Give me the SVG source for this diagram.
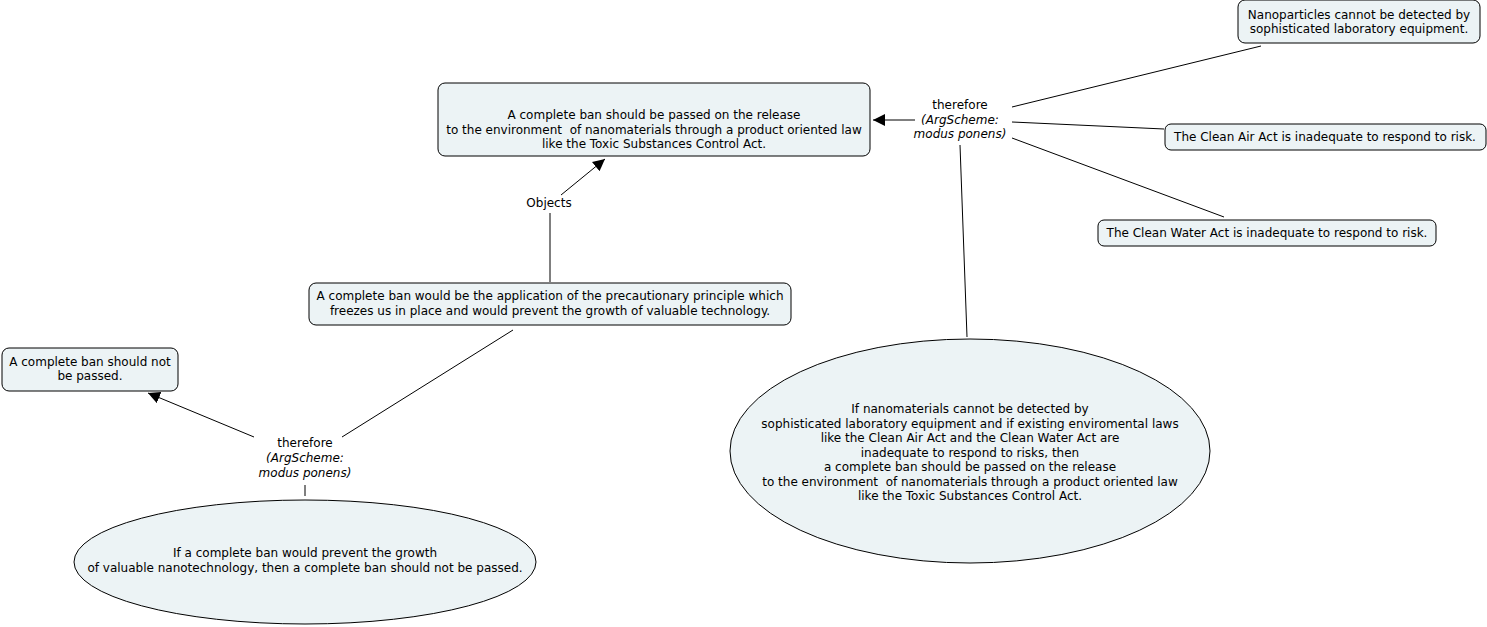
<svg xmlns="http://www.w3.org/2000/svg" width="1487" height="627" viewBox="0 0 1487 627">
<defs>
<marker id="arr" viewBox="0 0 10 10" refX="10" refY="5" markerWidth="12" markerHeight="12" markerUnits="userSpaceOnUse" orient="auto">
<path d="M0,0 L10,5 L0,10 z" fill="#000"/>
</marker>
</defs>
<style>
.n{fill:#ecf3f5;stroke:#000;stroke-width:1}
text{font-family:"DejaVu Sans",Verdana,sans-serif;font-size:12px;fill:#000;text-anchor:middle;white-space:pre}
.i{font-style:italic}
.c line{stroke:#000;stroke-width:1}
</style>
<rect width="1487" height="627" fill="#fff"/>
<g class="c" id="connectors">
<line x1="915" y1="120" x2="873" y2="120" marker-end="url(#arr)"/>
<line x1="1012" y1="107" x2="1261" y2="46"/>
<line x1="1012" y1="122" x2="1164" y2="129"/>
<line x1="1012" y1="138" x2="1224" y2="217"/>
<line x1="960" y1="145" x2="967" y2="337"/>
<line x1="561" y1="195" x2="605" y2="159" marker-end="url(#arr)"/>
<line x1="550" y1="213" x2="550" y2="282"/>
<line x1="513" y1="330" x2="342" y2="437"/>
<line x1="254" y1="437" x2="148" y2="393" marker-end="url(#arr)"/>
<line x1="305" y1="485" x2="305" y2="496"/>
</g>
<g id="claim">
<rect class="n" x="438" y="83" width="432" height="73" rx="7"/>
<text x="654" y="119">A complete ban should be passed on the release</text>
<text x="654" y="134" xml:space="preserve">to the environment  of nanomaterials through a product oriented law</text>
<text x="654" y="148">like the Toxic Substances Control Act.</text>
</g>
<g id="therefore1">
<text x="960" y="109">therefore</text>
<text class="i" x="960" y="124">(ArgScheme:</text>
<text class="i" x="960" y="138">modus ponens)</text>
</g>
<g id="nanoparticles">
<rect class="n" x="1238" y="0" width="242" height="43" rx="7"/>
<text x="1359" y="19">Nanoparticles cannot be detected by</text>
<text x="1359" y="33">sophisticated laboratory equipment.</text>
</g>
<g id="cleanair">
<rect class="n" x="1165" y="124" width="321" height="26" rx="6"/>
<text x="1325" y="141">The Clean Air Act is inadequate to respond to risk.</text>
</g>
<g id="cleanwater">
<rect class="n" x="1098" y="220" width="338" height="26" rx="6"/>
<text x="1267" y="237">The Clean Water Act is inadequate to respond to risk.</text>
</g>
<g id="premise1">
<ellipse class="n" cx="970" cy="451" rx="240" ry="112"/>
<text x="970" y="413">If nanomaterials cannot be detected by</text>
<text x="970" y="428">sophisticated laboratory equipment and if existing enviromental laws</text>
<text x="970" y="442">like the Clean Air Act and the Clean Water Act are</text>
<text x="970" y="457">inadequate to respond to risks, then</text>
<text x="970" y="471">a complete ban should be passed on the release</text>
<text x="970" y="486" xml:space="preserve">to the environment  of nanomaterials through a product oriented law</text>
<text x="970" y="500">like the Toxic Substances Control Act.</text>
</g>
<g id="objects">
<text x="549" y="207">Objects</text>
</g>
<g id="precaution">
<rect class="n" x="309" y="283" width="482" height="42" rx="7"/>
<text x="550" y="300">A complete ban would be the application of the precautionary principle which</text>
<text x="550" y="315">freezes us in place and would prevent the growth of valuable technology.</text>
</g>
<g id="therefore2">
<text x="305" y="447">therefore</text>
<text class="i" x="305" y="462">(ArgScheme:</text>
<text class="i" x="305" y="477">modus ponens)</text>
</g>
<g id="notpassed">
<rect class="n" x="2" y="348" width="176" height="43" rx="7"/>
<text x="90" y="366">A complete ban should not</text>
<text x="90" y="380">be passed.</text>
</g>
<g id="premise2">
<ellipse class="n" cx="305" cy="562" rx="231" ry="62"/>
<text x="305" y="557">If a complete ban would prevent the growth</text>
<text x="305" y="572">of valuable nanotechnology, then a complete ban should not be passed.</text>
</g>
</svg>
